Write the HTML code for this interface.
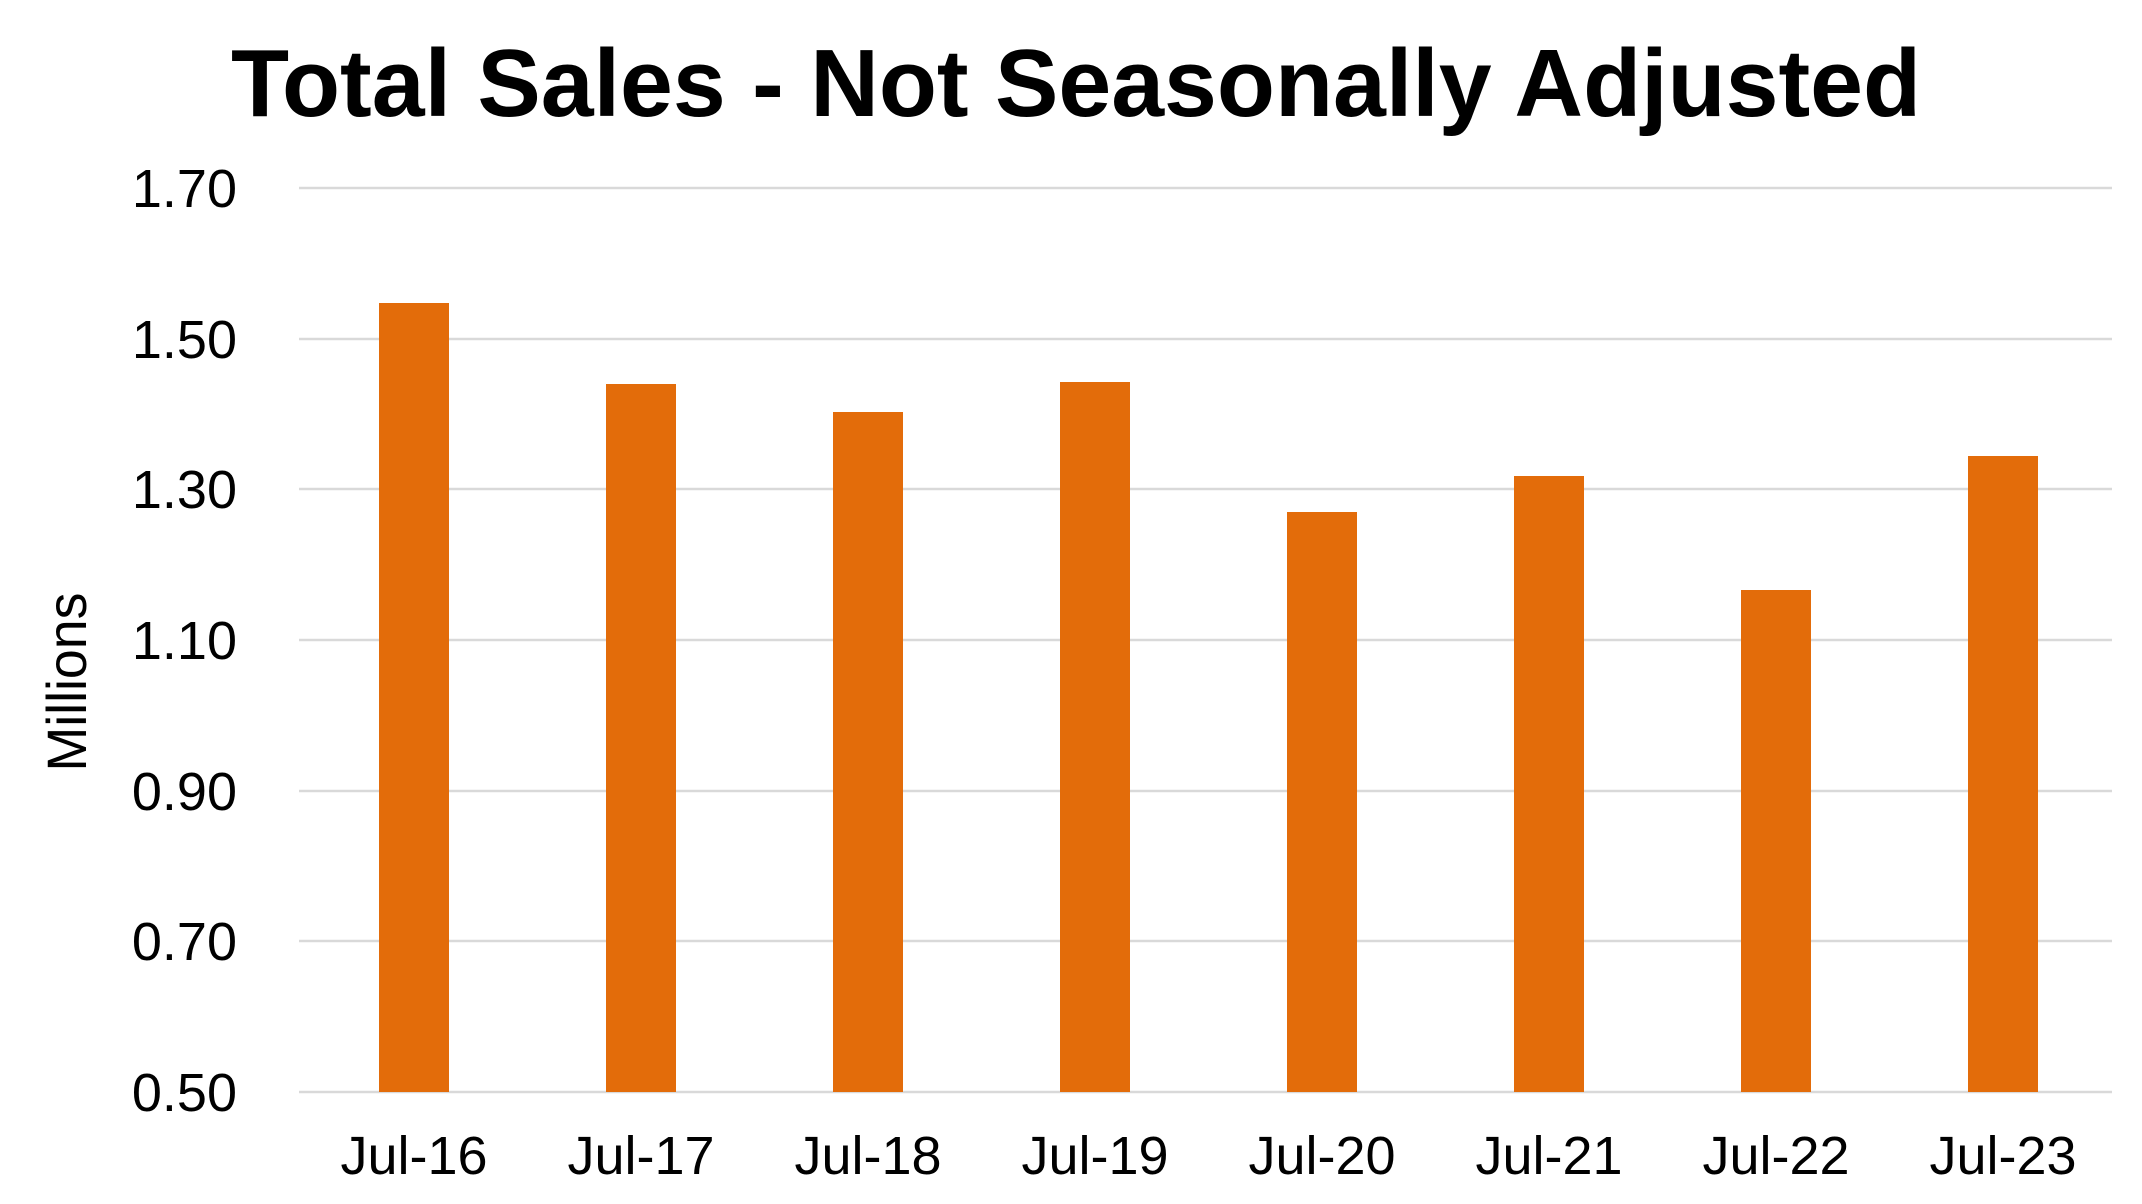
<!DOCTYPE html>
<html><head><meta charset="utf-8"><style>html,body{margin:0;padding:0;background:#fff}svg{display:block}</style></head>
<body>
<svg width="2142" height="1204" viewBox="0 0 2142 1204" xmlns="http://www.w3.org/2000/svg" font-family="'Liberation Sans', Arial, sans-serif">
<rect width="2142" height="1204" fill="#fff"/>
<text x="1076" y="116" text-anchor="middle" font-size="96" font-weight="bold" textLength="1690" lengthAdjust="spacingAndGlyphs">Total Sales - Not Seasonally Adjusted</text>
<g stroke="#d9d9d9" stroke-width="2.5">
<line x1="299" x2="2112" y1="188" y2="188"/>
<line x1="299" x2="2112" y1="339" y2="339"/>
<line x1="299" x2="2112" y1="489" y2="489"/>
<line x1="299" x2="2112" y1="640" y2="640"/>
<line x1="299" x2="2112" y1="791" y2="791"/>
<line x1="299" x2="2112" y1="941" y2="941"/>
<line x1="299" x2="2112" y1="1092" y2="1092"/>
</g>
<g font-size="54" text-anchor="end">
<text x="237" y="207">1.70</text>
<text x="237" y="358">1.50</text>
<text x="237" y="508">1.30</text>
<text x="237" y="659">1.10</text>
<text x="237" y="810">0.90</text>
<text x="237" y="960">0.70</text>
<text x="237" y="1111">0.50</text>
</g>
<text transform="translate(86,682) rotate(-90)" text-anchor="middle" font-size="56" textLength="179" lengthAdjust="spacingAndGlyphs">Millions</text>
<g fill="#E36C0A">
<rect x="379" y="303" width="70" height="789"/>
<rect x="606" y="384" width="70" height="708"/>
<rect x="833" y="412" width="70" height="680"/>
<rect x="1060" y="382" width="70" height="710"/>
<rect x="1287" y="512" width="70" height="580"/>
<rect x="1514" y="476" width="70" height="616"/>
<rect x="1741" y="590" width="70" height="502"/>
<rect x="1968" y="456" width="70" height="636"/>
</g>
<g font-size="54" text-anchor="middle">
<text x="414" y="1174">Jul-16</text>
<text x="641" y="1174">Jul-17</text>
<text x="868" y="1174">Jul-18</text>
<text x="1095" y="1174">Jul-19</text>
<text x="1322" y="1174">Jul-20</text>
<text x="1549" y="1174">Jul-21</text>
<text x="1776" y="1174">Jul-22</text>
<text x="2003" y="1174">Jul-23</text>
</g>
</svg>
</body></html>
